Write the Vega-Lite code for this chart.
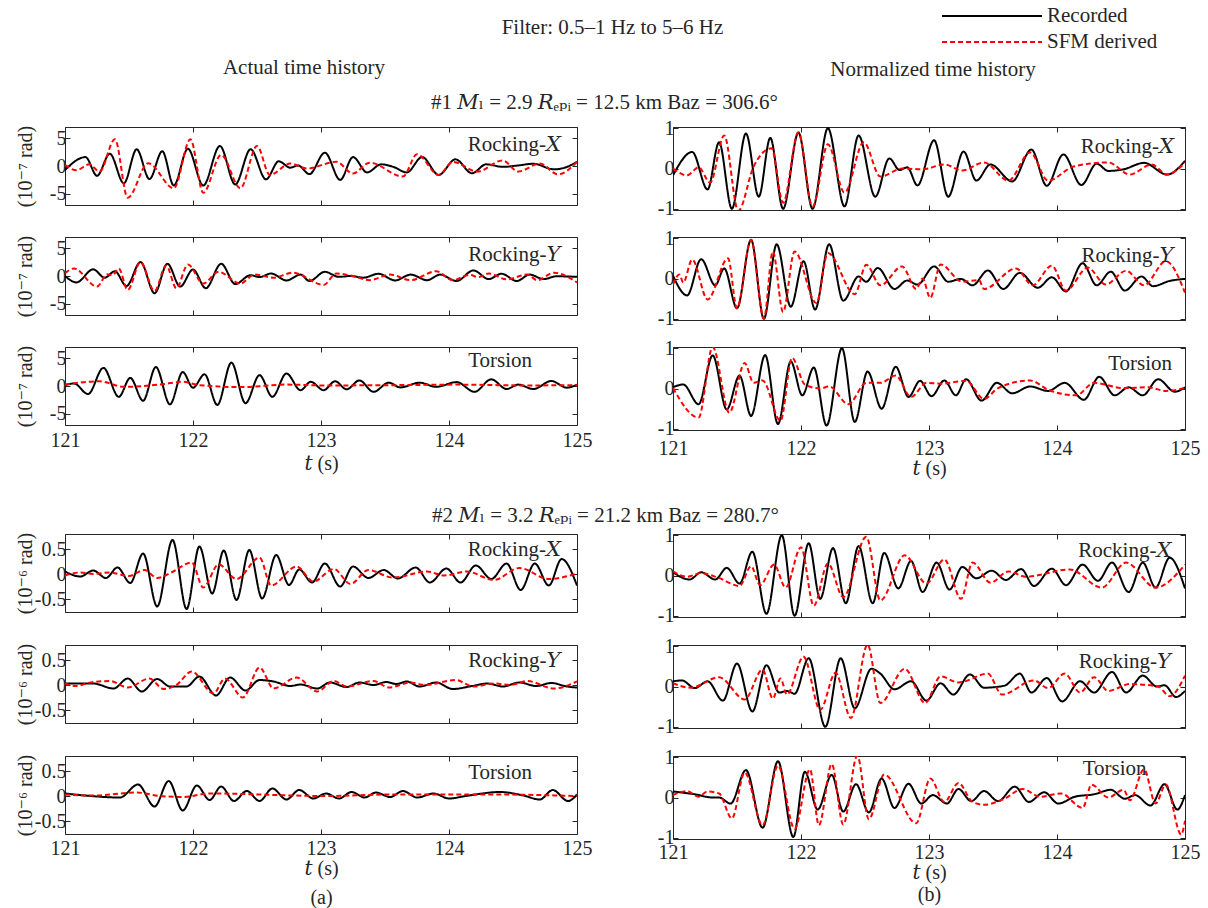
{
"$schema": "https://vega.github.io/schema/vega-lite/v6.json",
"background": "white",
"padding": {"left": 14, "top": 5, "right": 5, "bottom": 5},
"title": {"text": "Filter: 0.5–1 Hz to 5–6 Hz", "anchor": "middle", "offset": -33, "dx": 5},
"data": {"values": [
{"p":1,"s":"R","t":121.00,"v":-0.7},{"p":1,"s":"R","t":121.16,"v":1.6},{"p":1,"s":"R","t":121.25,"v":-1.75},{"p":1,"s":"R","t":121.35,"v":2.2},{"p":1,"s":"R","t":121.46,"v":-3.1},{"p":1,"s":"R","t":121.56,"v":3.0},{"p":1,"s":"R","t":121.66,"v":-2.35},{"p":1,"s":"R","t":121.76,"v":2.65},{"p":1,"s":"R","t":121.85,"v":-3.5},{"p":1,"s":"R","t":121.96,"v":3.1},{"p":1,"s":"R","t":122.08,"v":-3.5},{"p":1,"s":"R","t":122.21,"v":3.6},{"p":1,"s":"R","t":122.33,"v":-3.3},{"p":1,"s":"R","t":122.45,"v":3.0},{"p":1,"s":"R","t":122.57,"v":-2.4},{"p":1,"s":"R","t":122.67,"v":0.85},{"p":1,"s":"R","t":122.76,"v":-0.3},{"p":1,"s":"R","t":122.82,"v":0.1},{"p":1,"s":"R","t":122.91,"v":-1.45},{"p":1,"s":"R","t":123.03,"v":2.4},{"p":1,"s":"R","t":123.15,"v":-2.5},{"p":1,"s":"R","t":123.25,"v":1.6},{"p":1,"s":"R","t":123.36,"v":-1.15},{"p":1,"s":"R","t":123.47,"v":0.3},{"p":1,"s":"R","t":123.57,"v":-0.2},{"p":1,"s":"R","t":123.67,"v":-1.15},{"p":1,"s":"R","t":123.79,"v":1.6},{"p":1,"s":"R","t":123.92,"v":-1.6},{"p":1,"s":"R","t":124.05,"v":1.2},{"p":1,"s":"R","t":124.18,"v":-1.3},{"p":1,"s":"R","t":124.29,"v":0.3},{"p":1,"s":"R","t":124.42,"v":-0.15},{"p":1,"s":"R","t":124.54,"v":0.1},{"p":1,"s":"R","t":124.66,"v":0.4},{"p":1,"s":"R","t":124.82,"v":-0.6},{"p":1,"s":"R","t":124.89,"v":-0.4},{"p":1,"s":"R","t":125.00,"v":0.75},
{"p":1,"s":"S","t":121.00,"v":0.2},{"p":1,"s":"S","t":121.09,"v":-0.75},{"p":1,"s":"S","t":121.19,"v":0.3},{"p":1,"s":"S","t":121.27,"v":-1.0},{"p":1,"s":"S","t":121.39,"v":4.8},{"p":1,"s":"S","t":121.49,"v":-5.7},{"p":1,"s":"S","t":121.65,"v":0.5},{"p":1,"s":"S","t":121.85,"v":-4.0},{"p":1,"s":"S","t":121.98,"v":4.8},{"p":1,"s":"S","t":122.08,"v":-4.8},{"p":1,"s":"S","t":122.22,"v":2.0},{"p":1,"s":"S","t":122.37,"v":-4.0},{"p":1,"s":"S","t":122.50,"v":3.6},{"p":1,"s":"S","t":122.60,"v":-1.6},{"p":1,"s":"S","t":122.76,"v":0.45},{"p":1,"s":"S","t":122.89,"v":-0.45},{"p":1,"s":"S","t":123.12,"v":0.75},{"p":1,"s":"S","t":123.25,"v":-1.35},{"p":1,"s":"S","t":123.38,"v":0.6},{"p":1,"s":"S","t":123.64,"v":-1.9},{"p":1,"s":"S","t":123.75,"v":2.1},{"p":1,"s":"S","t":123.92,"v":-1.6},{"p":1,"s":"S","t":124.03,"v":0.75},{"p":1,"s":"S","t":124.22,"v":-1.0},{"p":1,"s":"S","t":124.42,"v":1.0},{"p":1,"s":"S","t":124.54,"v":-1.0},{"p":1,"s":"S","t":124.71,"v":0.45},{"p":1,"s":"S","t":124.85,"v":-1.5},{"p":1,"s":"S","t":125.00,"v":0.75},
{"p":2,"s":"R","t":121.00,"v":0.0},{"p":2,"s":"R","t":121.09,"v":-1.15},{"p":2,"s":"R","t":121.22,"v":1.2},{"p":2,"s":"R","t":121.31,"v":-0.3},{"p":2,"s":"R","t":121.39,"v":0.85},{"p":2,"s":"R","t":121.48,"v":-1.8},{"p":2,"s":"R","t":121.59,"v":2.5},{"p":2,"s":"R","t":121.70,"v":-3.1},{"p":2,"s":"R","t":121.80,"v":2.2},{"p":2,"s":"R","t":121.90,"v":-1.9},{"p":2,"s":"R","t":122.00,"v":1.15},{"p":2,"s":"R","t":122.10,"v":-2.2},{"p":2,"s":"R","t":122.22,"v":2.2},{"p":2,"s":"R","t":122.33,"v":-1.45},{"p":2,"s":"R","t":122.45,"v":0.15},{"p":2,"s":"R","t":122.52,"v":-0.2},{"p":2,"s":"R","t":122.61,"v":0.45},{"p":2,"s":"R","t":122.73,"v":-0.8},{"p":2,"s":"R","t":122.84,"v":0.25},{"p":2,"s":"R","t":122.91,"v":-0.9},{"p":2,"s":"R","t":123.03,"v":0.75},{"p":2,"s":"R","t":123.14,"v":-0.15},{"p":2,"s":"R","t":123.23,"v":0.0},{"p":2,"s":"R","t":123.33,"v":-0.3},{"p":2,"s":"R","t":123.45,"v":0.4},{"p":2,"s":"R","t":123.58,"v":-0.8},{"p":2,"s":"R","t":123.70,"v":0.25},{"p":2,"s":"R","t":123.83,"v":-0.75},{"p":2,"s":"R","t":123.93,"v":0.25},{"p":2,"s":"R","t":124.06,"v":-0.9},{"p":2,"s":"R","t":124.19,"v":1.0},{"p":2,"s":"R","t":124.31,"v":-0.55},{"p":2,"s":"R","t":124.41,"v":0.4},{"p":2,"s":"R","t":124.53,"v":-0.9},{"p":2,"s":"R","t":124.63,"v":0.25},{"p":2,"s":"R","t":124.74,"v":-0.55},{"p":2,"s":"R","t":124.84,"v":-0.05},{"p":2,"s":"R","t":125.00,"v":-0.15},
{"p":2,"s":"S","t":121.00,"v":0.5},{"p":2,"s":"S","t":121.07,"v":1.35},{"p":2,"s":"S","t":121.25,"v":-1.9},{"p":2,"s":"S","t":121.33,"v":0.3},{"p":2,"s":"S","t":121.37,"v":0.1},{"p":2,"s":"S","t":121.42,"v":1.35},{"p":2,"s":"S","t":121.49,"v":-2.5},{"p":2,"s":"S","t":121.59,"v":2.5},{"p":2,"s":"S","t":121.70,"v":-2.7},{"p":2,"s":"S","t":121.79,"v":1.9},{"p":2,"s":"S","t":121.87,"v":-2.2},{"p":2,"s":"S","t":121.96,"v":2.05},{"p":2,"s":"S","t":122.08,"v":-1.35},{"p":2,"s":"S","t":122.20,"v":0.75},{"p":2,"s":"S","t":122.37,"v":-1.35},{"p":2,"s":"S","t":122.48,"v":0.25},{"p":2,"s":"S","t":122.63,"v":-0.3},{"p":2,"s":"S","t":122.78,"v":0.6},{"p":2,"s":"S","t":123.02,"v":-1.6},{"p":2,"s":"S","t":123.12,"v":0.45},{"p":2,"s":"S","t":123.25,"v":0.0},{"p":2,"s":"S","t":123.38,"v":-0.75},{"p":2,"s":"S","t":123.54,"v":0.25},{"p":2,"s":"S","t":123.70,"v":-0.75},{"p":2,"s":"S","t":123.90,"v":0.85},{"p":2,"s":"S","t":124.03,"v":-0.75},{"p":2,"s":"S","t":124.16,"v":0.2},{"p":2,"s":"S","t":124.23,"v":-0.2},{"p":2,"s":"S","t":124.31,"v":0.45},{"p":2,"s":"S","t":124.45,"v":-0.6},{"p":2,"s":"S","t":124.61,"v":0.25},{"p":2,"s":"S","t":124.69,"v":-0.75},{"p":2,"s":"S","t":124.82,"v":0.6},{"p":2,"s":"S","t":125.00,"v":-1.15},
{"p":3,"s":"R","t":121.00,"v":0.15},{"p":3,"s":"R","t":121.07,"v":0.45},{"p":3,"s":"R","t":121.18,"v":-1.45},{"p":3,"s":"R","t":121.30,"v":3.25},{"p":3,"s":"R","t":121.42,"v":-1.95},{"p":3,"s":"R","t":121.51,"v":1.45},{"p":3,"s":"R","t":121.61,"v":-2.65},{"p":3,"s":"R","t":121.71,"v":3.4},{"p":3,"s":"R","t":121.82,"v":-3.3},{"p":3,"s":"R","t":121.92,"v":2.5},{"p":3,"s":"R","t":122.00,"v":-0.3},{"p":3,"s":"R","t":122.09,"v":2.1},{"p":3,"s":"R","t":122.19,"v":-3.4},{"p":3,"s":"R","t":122.30,"v":4.2},{"p":3,"s":"R","t":122.41,"v":-3.1},{"p":3,"s":"R","t":122.52,"v":1.95},{"p":3,"s":"R","t":122.62,"v":-1.95},{"p":3,"s":"R","t":122.73,"v":2.25},{"p":3,"s":"R","t":122.84,"v":-0.75},{"p":3,"s":"R","t":122.92,"v":0.75},{"p":3,"s":"R","t":123.02,"v":-0.75},{"p":3,"s":"R","t":123.11,"v":0.85},{"p":3,"s":"R","t":123.20,"v":-0.6},{"p":3,"s":"R","t":123.30,"v":1.0},{"p":3,"s":"R","t":123.41,"v":-1.05},{"p":3,"s":"R","t":123.53,"v":0.6},{"p":3,"s":"R","t":123.62,"v":-0.25},{"p":3,"s":"R","t":123.77,"v":0.6},{"p":3,"s":"R","t":123.90,"v":-0.15},{"p":3,"s":"R","t":124.06,"v":0.7},{"p":3,"s":"R","t":124.20,"v":-1.05},{"p":3,"s":"R","t":124.33,"v":1.2},{"p":3,"s":"R","t":124.45,"v":-0.55},{"p":3,"s":"R","t":124.54,"v":0.25},{"p":3,"s":"R","t":124.66,"v":-0.55},{"p":3,"s":"R","t":124.80,"v":0.9},{"p":3,"s":"R","t":124.92,"v":-0.3},{"p":3,"s":"R","t":125.00,"v":0.25},
{"p":3,"s":"S","t":121.00,"v":0.25},{"p":3,"s":"S","t":121.27,"v":0.85},{"p":3,"s":"S","t":121.46,"v":-0.15},{"p":3,"s":"S","t":121.74,"v":0.25},{"p":3,"s":"S","t":121.92,"v":0.75},{"p":3,"s":"S","t":122.05,"v":0.15},{"p":3,"s":"S","t":122.38,"v":-0.2},{"p":3,"s":"S","t":122.73,"v":0.25},{"p":3,"s":"S","t":123.03,"v":0.1},{"p":3,"s":"S","t":123.56,"v":0.15},{"p":3,"s":"S","t":124.06,"v":0.25},{"p":3,"s":"S","t":124.60,"v":0.1},{"p":3,"s":"S","t":125.00,"v":0.15},
{"p":4,"s":"R","t":121.00,"v":-0.17},{"p":4,"s":"R","t":121.15,"v":0.41},{"p":4,"s":"R","t":121.27,"v":-0.52},{"p":4,"s":"R","t":121.36,"v":0.65},{"p":4,"s":"R","t":121.46,"v":-1.0},{"p":4,"s":"R","t":121.57,"v":0.87},{"p":4,"s":"R","t":121.67,"v":-0.7},{"p":4,"s":"R","t":121.76,"v":0.76},{"p":4,"s":"R","t":121.86,"v":-1.0},{"p":4,"s":"R","t":121.98,"v":0.89},{"p":4,"s":"R","t":122.09,"v":-1.0},{"p":4,"s":"R","t":122.21,"v":1.0},{"p":4,"s":"R","t":122.34,"v":-0.94},{"p":4,"s":"R","t":122.45,"v":0.82},{"p":4,"s":"R","t":122.58,"v":-0.7},{"p":4,"s":"R","t":122.69,"v":0.25},{"p":4,"s":"R","t":122.77,"v":-0.04},{"p":4,"s":"R","t":122.83,"v":0.03},{"p":4,"s":"R","t":122.91,"v":-0.42},{"p":4,"s":"R","t":123.04,"v":0.7},{"p":4,"s":"R","t":123.15,"v":-0.7},{"p":4,"s":"R","t":123.27,"v":0.42},{"p":4,"s":"R","t":123.37,"v":-0.3},{"p":4,"s":"R","t":123.48,"v":0.1},{"p":4,"s":"R","t":123.65,"v":-0.32},{"p":4,"s":"R","t":123.80,"v":0.47},{"p":4,"s":"R","t":123.92,"v":-0.43},{"p":4,"s":"R","t":124.05,"v":0.35},{"p":4,"s":"R","t":124.19,"v":-0.41},{"p":4,"s":"R","t":124.31,"v":0.12},{"p":4,"s":"R","t":124.40,"v":-0.06},{"p":4,"s":"R","t":124.52,"v":-0.02},{"p":4,"s":"R","t":124.68,"v":0.14},{"p":4,"s":"R","t":124.86,"v":-0.15},{"p":4,"s":"R","t":125.00,"v":0.19},
{"p":4,"s":"S","t":121.00,"v":0.0},{"p":4,"s":"S","t":121.11,"v":-0.17},{"p":4,"s":"S","t":121.20,"v":0.03},{"p":4,"s":"S","t":121.29,"v":-0.35},{"p":4,"s":"S","t":121.40,"v":0.82},{"p":4,"s":"S","t":121.51,"v":-1.05},{"p":4,"s":"S","t":121.63,"v":0.05},{"p":4,"s":"S","t":121.77,"v":0.5},{"p":4,"s":"S","t":121.86,"v":-0.85},{"p":4,"s":"S","t":121.98,"v":0.9},{"p":4,"s":"S","t":122.09,"v":-0.95},{"p":4,"s":"S","t":122.21,"v":0.6},{"p":4,"s":"S","t":122.34,"v":-0.6},{"p":4,"s":"S","t":122.49,"v":0.65},{"p":4,"s":"S","t":122.62,"v":-0.2},{"p":4,"s":"S","t":122.79,"v":0.0},{"p":4,"s":"S","t":122.95,"v":-0.02},{"p":4,"s":"S","t":123.12,"v":0.1},{"p":4,"s":"S","t":123.26,"v":-0.05},{"p":4,"s":"S","t":123.43,"v":0.15},{"p":4,"s":"S","t":123.62,"v":-0.3},{"p":4,"s":"S","t":123.79,"v":0.4},{"p":4,"s":"S","t":123.93,"v":-0.3},{"p":4,"s":"S","t":124.13,"v":0.05},{"p":4,"s":"S","t":124.40,"v":0.15},{"p":4,"s":"S","t":124.57,"v":-0.15},{"p":4,"s":"S","t":124.74,"v":0.1},{"p":4,"s":"S","t":124.86,"v":-0.15},{"p":4,"s":"S","t":125.00,"v":0.15},
{"p":5,"s":"R","t":121.00,"v":0.07},{"p":5,"s":"R","t":121.11,"v":-0.42},{"p":5,"s":"R","t":121.22,"v":0.48},{"p":5,"s":"R","t":121.33,"v":-0.17},{"p":5,"s":"R","t":121.40,"v":0.25},{"p":5,"s":"R","t":121.50,"v":-0.74},{"p":5,"s":"R","t":121.61,"v":0.96},{"p":5,"s":"R","t":121.71,"v":-1.0},{"p":5,"s":"R","t":121.81,"v":0.85},{"p":5,"s":"R","t":121.92,"v":-0.7},{"p":5,"s":"R","t":122.02,"v":0.43},{"p":5,"s":"R","t":122.11,"v":-0.77},{"p":5,"s":"R","t":122.22,"v":0.85},{"p":5,"s":"R","t":122.33,"v":-0.55},{"p":5,"s":"R","t":122.45,"v":0.05},{"p":5,"s":"R","t":122.51,"v":-0.08},{"p":5,"s":"R","t":122.60,"v":0.26},{"p":5,"s":"R","t":122.73,"v":-0.26},{"p":5,"s":"R","t":122.83,"v":-0.05},{"p":5,"s":"R","t":122.91,"v":-0.15},{"p":5,"s":"R","t":123.04,"v":0.3},{"p":5,"s":"R","t":123.15,"v":-0.08},{"p":5,"s":"R","t":123.25,"v":-0.01},{"p":5,"s":"R","t":123.34,"v":-0.17},{"p":5,"s":"R","t":123.46,"v":0.2},{"p":5,"s":"R","t":123.58,"v":-0.26},{"p":5,"s":"R","t":123.71,"v":0.14},{"p":5,"s":"R","t":123.85,"v":-0.23},{"p":5,"s":"R","t":123.96,"v":0.03},{"p":5,"s":"R","t":124.07,"v":-0.32},{"p":5,"s":"R","t":124.20,"v":0.38},{"p":5,"s":"R","t":124.31,"v":-0.17},{"p":5,"s":"R","t":124.42,"v":0.17},{"p":5,"s":"R","t":124.53,"v":-0.3},{"p":5,"s":"R","t":124.66,"v":0.05},{"p":5,"s":"R","t":124.75,"v":-0.19},{"p":5,"s":"R","t":124.88,"v":-0.06},{"p":5,"s":"R","t":125.00,"v":-0.01},
{"p":5,"s":"S","t":121.00,"v":-0.15},{"p":5,"s":"S","t":121.05,"v":0.1},{"p":5,"s":"S","t":121.08,"v":-0.1},{"p":5,"s":"S","t":121.15,"v":0.47},{"p":5,"s":"S","t":121.27,"v":-0.52},{"p":5,"s":"S","t":121.43,"v":0.5},{"p":5,"s":"S","t":121.50,"v":-0.74},{"p":5,"s":"S","t":121.61,"v":0.96},{"p":5,"s":"S","t":121.71,"v":-1.0},{"p":5,"s":"S","t":121.78,"v":0.67},{"p":5,"s":"S","t":121.86,"v":-0.83},{"p":5,"s":"S","t":121.95,"v":0.67},{"p":5,"s":"S","t":122.12,"v":-0.61},{"p":5,"s":"S","t":122.21,"v":0.63},{"p":5,"s":"S","t":122.42,"v":-0.39},{"p":5,"s":"S","t":122.51,"v":0.34},{"p":5,"s":"S","t":122.62,"v":-0.17},{"p":5,"s":"S","t":122.79,"v":0.3},{"p":5,"s":"S","t":122.90,"v":-0.26},{"p":5,"s":"S","t":122.95,"v":0.0},{"p":5,"s":"S","t":123.01,"v":-0.48},{"p":5,"s":"S","t":123.09,"v":0.35},{"p":5,"s":"S","t":123.26,"v":-0.08},{"p":5,"s":"S","t":123.39,"v":-0.04},{"p":5,"s":"S","t":123.43,"v":-0.26},{"p":5,"s":"S","t":123.68,"v":0.25},{"p":5,"s":"S","t":123.81,"v":-0.17},{"p":5,"s":"S","t":123.96,"v":0.32},{"p":5,"s":"S","t":124.07,"v":-0.3},{"p":5,"s":"S","t":124.24,"v":0.27},{"p":5,"s":"S","t":124.38,"v":-0.15},{"p":5,"s":"S","t":124.54,"v":0.19},{"p":5,"s":"S","t":124.68,"v":-0.17},{"p":5,"s":"S","t":124.85,"v":0.43},{"p":5,"s":"S","t":125.00,"v":-0.35},
{"p":6,"s":"R","t":121.00,"v":0.03},{"p":6,"s":"R","t":121.08,"v":0.1},{"p":6,"s":"R","t":121.20,"v":-0.39},{"p":6,"s":"R","t":121.31,"v":0.82},{"p":6,"s":"R","t":121.42,"v":-0.52},{"p":6,"s":"R","t":121.52,"v":0.32},{"p":6,"s":"R","t":121.61,"v":-0.68},{"p":6,"s":"R","t":121.72,"v":0.83},{"p":6,"s":"R","t":121.82,"v":-0.88},{"p":6,"s":"R","t":121.92,"v":0.67},{"p":6,"s":"R","t":122.01,"v":-0.17},{"p":6,"s":"R","t":122.10,"v":0.52},{"p":6,"s":"R","t":122.20,"v":-0.92},{"p":6,"s":"R","t":122.32,"v":1.0},{"p":6,"s":"R","t":122.42,"v":-0.83},{"p":6,"s":"R","t":122.52,"v":0.42},{"p":6,"s":"R","t":122.63,"v":-0.5},{"p":6,"s":"R","t":122.74,"v":0.54},{"p":6,"s":"R","t":122.84,"v":-0.21},{"p":6,"s":"R","t":122.93,"v":0.19},{"p":6,"s":"R","t":123.02,"v":-0.19},{"p":6,"s":"R","t":123.12,"v":0.2},{"p":6,"s":"R","t":123.21,"v":-0.17},{"p":6,"s":"R","t":123.29,"v":0.23},{"p":6,"s":"R","t":123.41,"v":-0.3},{"p":6,"s":"R","t":123.53,"v":0.14},{"p":6,"s":"R","t":123.65,"v":-0.12},{"p":6,"s":"R","t":123.79,"v":0.05},{"p":6,"s":"R","t":123.93,"v":-0.06},{"p":6,"s":"R","t":124.06,"v":0.14},{"p":6,"s":"R","t":124.21,"v":-0.28},{"p":6,"s":"R","t":124.33,"v":0.29},{"p":6,"s":"R","t":124.45,"v":-0.17},{"p":6,"s":"R","t":124.56,"v":0.03},{"p":6,"s":"R","t":124.67,"v":-0.17},{"p":6,"s":"R","t":124.79,"v":0.23},{"p":6,"s":"R","t":124.92,"v":-0.08},{"p":6,"s":"R","t":125.00,"v":0.03},
{"p":6,"s":"S","t":121.00,"v":0.01},{"p":6,"s":"S","t":121.20,"v":-0.72},{"p":6,"s":"S","t":121.31,"v":1.03},{"p":6,"s":"S","t":121.44,"v":-0.6},{"p":6,"s":"S","t":121.56,"v":0.63},{"p":6,"s":"S","t":121.63,"v":0.14},{"p":6,"s":"S","t":121.70,"v":0.2},{"p":6,"s":"S","t":121.84,"v":-0.8},{"p":6,"s":"S","t":121.93,"v":0.76},{"p":6,"s":"S","t":122.03,"v":0.1},{"p":6,"s":"S","t":122.15,"v":0.0},{"p":6,"s":"S","t":122.22,"v":0.05},{"p":6,"s":"S","t":122.37,"v":-0.39},{"p":6,"s":"S","t":122.51,"v":0.14},{"p":6,"s":"S","t":122.62,"v":0.14},{"p":6,"s":"S","t":122.74,"v":0.32},{"p":6,"s":"S","t":122.86,"v":-0.21},{"p":6,"s":"S","t":122.98,"v":0.14},{"p":6,"s":"S","t":123.09,"v":0.12},{"p":6,"s":"S","t":123.29,"v":0.19},{"p":6,"s":"S","t":123.43,"v":-0.26},{"p":6,"s":"S","t":123.54,"v":0.01},{"p":6,"s":"S","t":123.79,"v":0.2},{"p":6,"s":"S","t":123.93,"v":-0.03},{"p":6,"s":"S","t":124.15,"v":-0.17},{"p":6,"s":"S","t":124.29,"v":0.14},{"p":6,"s":"S","t":124.52,"v":0.01},{"p":6,"s":"S","t":124.71,"v":0.03},{"p":6,"s":"S","t":124.85,"v":-0.06},{"p":6,"s":"S","t":125.00,"v":0.01},
{"p":7,"s":"R","t":121.00,"v":0.05},{"p":7,"s":"R","t":121.12,"v":-0.05},{"p":7,"s":"R","t":121.22,"v":0.07},{"p":7,"s":"R","t":121.32,"v":-0.08},{"p":7,"s":"R","t":121.41,"v":0.13},{"p":7,"s":"R","t":121.51,"v":-0.18},{"p":7,"s":"R","t":121.61,"v":0.41},{"p":7,"s":"R","t":121.72,"v":-0.65},{"p":7,"s":"R","t":121.84,"v":0.68},{"p":7,"s":"R","t":121.95,"v":-0.7},{"p":7,"s":"R","t":122.05,"v":0.55},{"p":7,"s":"R","t":122.15,"v":-0.39},{"p":7,"s":"R","t":122.24,"v":0.47},{"p":7,"s":"R","t":122.34,"v":-0.52},{"p":7,"s":"R","t":122.44,"v":0.48},{"p":7,"s":"R","t":122.54,"v":-0.49},{"p":7,"s":"R","t":122.65,"v":0.38},{"p":7,"s":"R","t":122.75,"v":-0.22},{"p":7,"s":"R","t":122.83,"v":0.09},{"p":7,"s":"R","t":122.93,"v":-0.17},{"p":7,"s":"R","t":123.03,"v":0.21},{"p":7,"s":"R","t":123.15,"v":-0.25},{"p":7,"s":"R","t":123.25,"v":0.15},{"p":7,"s":"R","t":123.37,"v":-0.08},{"p":7,"s":"R","t":123.49,"v":0.08},{"p":7,"s":"R","t":123.60,"v":-0.09},{"p":7,"s":"R","t":123.74,"v":0.13},{"p":7,"s":"R","t":123.85,"v":-0.17},{"p":7,"s":"R","t":123.98,"v":0.11},{"p":7,"s":"R","t":124.09,"v":-0.17},{"p":7,"s":"R","t":124.21,"v":0.17},{"p":7,"s":"R","t":124.33,"v":-0.1},{"p":7,"s":"R","t":124.45,"v":0.21},{"p":7,"s":"R","t":124.56,"v":-0.32},{"p":7,"s":"R","t":124.67,"v":0.21},{"p":7,"s":"R","t":124.78,"v":-0.23},{"p":7,"s":"R","t":124.88,"v":0.3},{"p":7,"s":"R","t":125.00,"v":-0.23},
{"p":7,"s":"S","t":121.00,"v":-0.03},{"p":7,"s":"S","t":121.12,"v":0.03},{"p":7,"s":"S","t":121.22,"v":0.0},{"p":7,"s":"S","t":121.35,"v":0.03},{"p":7,"s":"S","t":121.50,"v":-0.04},{"p":7,"s":"S","t":121.62,"v":0.08},{"p":7,"s":"S","t":121.72,"v":-0.08},{"p":7,"s":"S","t":121.83,"v":0.03},{"p":7,"s":"S","t":121.99,"v":0.23},{"p":7,"s":"S","t":122.08,"v":-0.27},{"p":7,"s":"S","t":122.20,"v":0.19},{"p":7,"s":"S","t":122.34,"v":-0.1},{"p":7,"s":"S","t":122.52,"v":0.33},{"p":7,"s":"S","t":122.61,"v":-0.23},{"p":7,"s":"S","t":122.81,"v":0.15},{"p":7,"s":"S","t":122.94,"v":-0.15},{"p":7,"s":"S","t":123.10,"v":0.1},{"p":7,"s":"S","t":123.23,"v":-0.2},{"p":7,"s":"S","t":123.37,"v":0.08},{"p":7,"s":"S","t":123.56,"v":-0.07},{"p":7,"s":"S","t":123.83,"v":0.05},{"p":7,"s":"S","t":123.96,"v":-0.03},{"p":7,"s":"S","t":124.14,"v":0.05},{"p":7,"s":"S","t":124.35,"v":-0.12},{"p":7,"s":"S","t":124.55,"v":0.12},{"p":7,"s":"S","t":124.78,"v":-0.1},{"p":7,"s":"S","t":125.00,"v":0.01},
{"p":8,"s":"R","t":121.00,"v":0.03},{"p":8,"s":"R","t":121.22,"v":0.03},{"p":8,"s":"R","t":121.38,"v":-0.07},{"p":8,"s":"R","t":121.49,"v":0.13},{"p":8,"s":"R","t":121.60,"v":-0.13},{"p":8,"s":"R","t":121.72,"v":0.12},{"p":8,"s":"R","t":121.82,"v":-0.03},{"p":8,"s":"R","t":121.95,"v":-0.03},{"p":8,"s":"R","t":122.05,"v":0.17},{"p":8,"s":"R","t":122.18,"v":-0.21},{"p":8,"s":"R","t":122.29,"v":0.15},{"p":8,"s":"R","t":122.41,"v":-0.11},{"p":8,"s":"R","t":122.52,"v":0.1},{"p":8,"s":"R","t":122.63,"v":0.07},{"p":8,"s":"R","t":122.76,"v":-0.02},{"p":8,"s":"R","t":122.84,"v":0.01},{"p":8,"s":"R","t":122.97,"v":-0.07},{"p":8,"s":"R","t":123.07,"v":0.05},{"p":8,"s":"R","t":123.20,"v":-0.04},{"p":8,"s":"R","t":123.30,"v":0.05},{"p":8,"s":"R","t":123.41,"v":0.0},{"p":8,"s":"R","t":123.51,"v":0.06},{"p":8,"s":"R","t":123.59,"v":0.02},{"p":8,"s":"R","t":123.67,"v":0.07},{"p":8,"s":"R","t":123.77,"v":-0.03},{"p":8,"s":"R","t":123.90,"v":0.05},{"p":8,"s":"R","t":124.03,"v":-0.08},{"p":8,"s":"R","t":124.18,"v":-0.02},{"p":8,"s":"R","t":124.30,"v":0.03},{"p":8,"s":"R","t":124.42,"v":-0.03},{"p":8,"s":"R","t":124.55,"v":0.05},{"p":8,"s":"R","t":124.68,"v":-0.02},{"p":8,"s":"R","t":124.80,"v":0.04},{"p":8,"s":"R","t":124.92,"v":-0.03},{"p":8,"s":"R","t":125.00,"v":-0.05},
{"p":8,"s":"S","t":121.00,"v":0.03},{"p":8,"s":"S","t":121.08,"v":-0.02},{"p":8,"s":"S","t":121.20,"v":0.05},{"p":8,"s":"S","t":121.35,"v":0.08},{"p":8,"s":"S","t":121.49,"v":-0.05},{"p":8,"s":"S","t":121.66,"v":0.13},{"p":8,"s":"S","t":121.77,"v":-0.08},{"p":8,"s":"S","t":121.87,"v":0.0},{"p":8,"s":"S","t":121.99,"v":0.27},{"p":8,"s":"S","t":122.16,"v":-0.17},{"p":8,"s":"S","t":122.25,"v":0.13},{"p":8,"s":"S","t":122.39,"v":-0.25},{"p":8,"s":"S","t":122.52,"v":0.35},{"p":8,"s":"S","t":122.63,"v":-0.07},{"p":8,"s":"S","t":122.81,"v":0.15},{"p":8,"s":"S","t":122.97,"v":-0.13},{"p":8,"s":"S","t":123.10,"v":0.08},{"p":8,"s":"S","t":123.20,"v":-0.03},{"p":8,"s":"S","t":123.41,"v":0.08},{"p":8,"s":"S","t":123.53,"v":-0.05},{"p":8,"s":"S","t":123.70,"v":0.05},{"p":8,"s":"S","t":123.81,"v":0.0},{"p":8,"s":"S","t":124.05,"v":0.1},{"p":8,"s":"S","t":124.19,"v":-0.03},{"p":8,"s":"S","t":124.35,"v":0.03},{"p":8,"s":"S","t":124.48,"v":0.0},{"p":8,"s":"S","t":124.61,"v":0.08},{"p":8,"s":"S","t":124.82,"v":-0.07},{"p":8,"s":"S","t":125.00,"v":0.07},
{"p":9,"s":"R","t":121.00,"v":0.05},{"p":9,"s":"R","t":121.20,"v":0.0},{"p":9,"s":"R","t":121.43,"v":-0.03},{"p":9,"s":"R","t":121.57,"v":0.23},{"p":9,"s":"R","t":121.70,"v":-0.21},{"p":9,"s":"R","t":121.81,"v":0.3},{"p":9,"s":"R","t":121.92,"v":-0.29},{"p":9,"s":"R","t":122.03,"v":0.21},{"p":9,"s":"R","t":122.13,"v":-0.08},{"p":9,"s":"R","t":122.22,"v":0.19},{"p":9,"s":"R","t":122.32,"v":-0.1},{"p":9,"s":"R","t":122.42,"v":0.1},{"p":9,"s":"R","t":122.52,"v":-0.1},{"p":9,"s":"R","t":122.62,"v":0.15},{"p":9,"s":"R","t":122.73,"v":-0.07},{"p":9,"s":"R","t":122.83,"v":0.12},{"p":9,"s":"R","t":122.94,"v":-0.05},{"p":9,"s":"R","t":123.04,"v":0.05},{"p":9,"s":"R","t":123.14,"v":-0.05},{"p":9,"s":"R","t":123.24,"v":0.08},{"p":9,"s":"R","t":123.34,"v":-0.03},{"p":9,"s":"R","t":123.43,"v":0.07},{"p":9,"s":"R","t":123.54,"v":-0.02},{"p":9,"s":"R","t":123.64,"v":0.1},{"p":9,"s":"R","t":123.75,"v":-0.03},{"p":9,"s":"R","t":123.88,"v":0.05},{"p":9,"s":"R","t":124.00,"v":-0.05},{"p":9,"s":"R","t":124.13,"v":0.0},{"p":9,"s":"R","t":124.40,"v":0.08},{"p":9,"s":"R","t":124.58,"v":0.01},{"p":9,"s":"R","t":124.71,"v":-0.07},{"p":9,"s":"R","t":124.81,"v":0.12},{"p":9,"s":"R","t":124.93,"v":-0.1},{"p":9,"s":"R","t":125.00,"v":0.03},
{"p":9,"s":"S","t":121.00,"v":0.03},{"p":9,"s":"S","t":121.22,"v":0.01},{"p":9,"s":"S","t":121.56,"v":0.07},{"p":9,"s":"S","t":121.74,"v":0.0},{"p":9,"s":"S","t":121.92,"v":-0.02},{"p":9,"s":"S","t":122.13,"v":0.05},{"p":9,"s":"S","t":123.04,"v":0.0},{"p":9,"s":"S","t":123.56,"v":0.03},{"p":9,"s":"S","t":124.35,"v":0.03},{"p":9,"s":"S","t":125.00,"v":0.0},
{"p":10,"s":"R","t":121.00,"v":0.08},{"p":10,"s":"R","t":121.13,"v":-0.1},{"p":10,"s":"R","t":121.22,"v":0.08},{"p":10,"s":"R","t":121.33,"v":-0.1},{"p":10,"s":"R","t":121.42,"v":0.19},{"p":10,"s":"R","t":121.52,"v":-0.2},{"p":10,"s":"R","t":121.62,"v":0.59},{"p":10,"s":"R","t":121.73,"v":-0.95},{"p":10,"s":"R","t":121.85,"v":1.0},{"p":10,"s":"R","t":121.95,"v":-1.0},{"p":10,"s":"R","t":122.06,"v":0.8},{"p":10,"s":"R","t":122.15,"v":-0.58},{"p":10,"s":"R","t":122.25,"v":0.68},{"p":10,"s":"R","t":122.35,"v":-0.69},{"p":10,"s":"R","t":122.45,"v":0.73},{"p":10,"s":"R","t":122.56,"v":-0.69},{"p":10,"s":"R","t":122.65,"v":0.56},{"p":10,"s":"R","t":122.76,"v":-0.32},{"p":10,"s":"R","t":122.86,"v":0.36},{"p":10,"s":"R","t":122.95,"v":-0.41},{"p":10,"s":"R","t":123.06,"v":0.32},{"p":10,"s":"R","t":123.16,"v":-0.35},{"p":10,"s":"R","t":123.26,"v":0.21},{"p":10,"s":"R","t":123.37,"v":-0.07},{"p":10,"s":"R","t":123.49,"v":0.12},{"p":10,"s":"R","t":123.60,"v":-0.11},{"p":10,"s":"R","t":123.72,"v":0.16},{"p":10,"s":"R","t":123.82,"v":-0.26},{"p":10,"s":"R","t":123.96,"v":0.17},{"p":10,"s":"R","t":124.07,"v":-0.24},{"p":10,"s":"R","t":124.20,"v":0.27},{"p":10,"s":"R","t":124.32,"v":-0.13},{"p":10,"s":"R","t":124.43,"v":0.32},{"p":10,"s":"R","t":124.56,"v":-0.41},{"p":10,"s":"R","t":124.67,"v":0.32},{"p":10,"s":"R","t":124.77,"v":-0.3},{"p":10,"s":"R","t":124.88,"v":0.44},{"p":10,"s":"R","t":125.00,"v":-0.32},
{"p":10,"s":"S","t":121.00,"v":0.1},{"p":10,"s":"S","t":121.11,"v":-0.03},{"p":10,"s":"S","t":121.22,"v":0.06},{"p":10,"s":"S","t":121.35,"v":-0.05},{"p":10,"s":"S","t":121.52,"v":-0.26},{"p":10,"s":"S","t":121.61,"v":0.23},{"p":10,"s":"S","t":121.68,"v":-0.24},{"p":10,"s":"S","t":121.79,"v":0.27},{"p":10,"s":"S","t":121.88,"v":-0.3},{"p":10,"s":"S","t":122.00,"v":0.7},{"p":10,"s":"S","t":122.10,"v":-0.75},{"p":10,"s":"S","t":122.21,"v":0.3},{"p":10,"s":"S","t":122.33,"v":-0.54},{"p":10,"s":"S","t":122.51,"v":0.96},{"p":10,"s":"S","t":122.62,"v":-0.62},{"p":10,"s":"S","t":122.81,"v":0.5},{"p":10,"s":"S","t":122.98,"v":-0.2},{"p":10,"s":"S","t":123.12,"v":0.4},{"p":10,"s":"S","t":123.25,"v":-0.58},{"p":10,"s":"S","t":123.34,"v":0.32},{"p":10,"s":"S","t":123.48,"v":-0.18},{"p":10,"s":"S","t":123.62,"v":0.1},{"p":10,"s":"S","t":123.76,"v":-0.03},{"p":10,"s":"S","t":124.10,"v":0.15},{"p":10,"s":"S","t":124.35,"v":-0.3},{"p":10,"s":"S","t":124.54,"v":0.32},{"p":10,"s":"S","t":124.77,"v":-0.3},{"p":10,"s":"S","t":125.00,"v":0.27},
{"p":11,"s":"R","t":121.00,"v":0.13},{"p":11,"s":"R","t":121.07,"v":0.15},{"p":11,"s":"R","t":121.17,"v":-0.04},{"p":11,"s":"R","t":121.27,"v":0.13},{"p":11,"s":"R","t":121.39,"v":-0.35},{"p":11,"s":"R","t":121.50,"v":0.57},{"p":11,"s":"R","t":121.62,"v":-0.62},{"p":11,"s":"R","t":121.73,"v":0.53},{"p":11,"s":"R","t":121.83,"v":-0.15},{"p":11,"s":"R","t":121.89,"v":-0.11},{"p":11,"s":"R","t":121.95,"v":-0.18},{"p":11,"s":"R","t":122.06,"v":0.7},{"p":11,"s":"R","t":122.19,"v":-1.0},{"p":11,"s":"R","t":122.31,"v":0.7},{"p":11,"s":"R","t":122.42,"v":-0.54},{"p":11,"s":"R","t":122.55,"v":0.44},{"p":11,"s":"R","t":122.62,"v":0.32},{"p":11,"s":"R","t":122.73,"v":-0.07},{"p":11,"s":"R","t":122.86,"v":0.13},{"p":11,"s":"R","t":122.98,"v":-0.35},{"p":11,"s":"R","t":123.09,"v":0.08},{"p":11,"s":"R","t":123.19,"v":-0.2},{"p":11,"s":"R","t":123.32,"v":0.3},{"p":11,"s":"R","t":123.43,"v":-0.03},{"p":11,"s":"R","t":123.59,"v":0.02},{"p":11,"s":"R","t":123.71,"v":0.32},{"p":11,"s":"R","t":123.80,"v":-0.15},{"p":11,"s":"R","t":123.92,"v":0.21},{"p":11,"s":"R","t":124.04,"v":-0.37},{"p":11,"s":"R","t":124.18,"v":0.13},{"p":11,"s":"R","t":124.29,"v":-0.15},{"p":11,"s":"R","t":124.43,"v":0.36},{"p":11,"s":"R","t":124.54,"v":-0.15},{"p":11,"s":"R","t":124.67,"v":0.27},{"p":11,"s":"R","t":124.78,"v":0.0},{"p":11,"s":"R","t":124.84,"v":0.03},{"p":11,"s":"R","t":124.93,"v":-0.26},{"p":11,"s":"R","t":125.00,"v":-0.11},
{"p":11,"s":"S","t":121.00,"v":0.08},{"p":11,"s":"S","t":121.14,"v":-0.03},{"p":11,"s":"S","t":121.36,"v":0.23},{"p":11,"s":"S","t":121.56,"v":-0.32},{"p":11,"s":"S","t":121.70,"v":0.42},{"p":11,"s":"S","t":121.78,"v":-0.3},{"p":11,"s":"S","t":121.84,"v":0.2},{"p":11,"s":"S","t":121.89,"v":-0.2},{"p":11,"s":"S","t":122.02,"v":0.74},{"p":11,"s":"S","t":122.15,"v":-0.58},{"p":11,"s":"S","t":122.27,"v":0.34},{"p":11,"s":"S","t":122.39,"v":-0.78},{"p":11,"s":"S","t":122.52,"v":1.04},{"p":11,"s":"S","t":122.62,"v":-0.41},{"p":11,"s":"S","t":122.81,"v":0.44},{"p":11,"s":"S","t":122.97,"v":-0.41},{"p":11,"s":"S","t":123.09,"v":0.25},{"p":11,"s":"S","t":123.23,"v":0.1},{"p":11,"s":"S","t":123.46,"v":0.32},{"p":11,"s":"S","t":123.57,"v":-0.2},{"p":11,"s":"S","t":123.82,"v":0.15},{"p":11,"s":"S","t":123.93,"v":-0.04},{"p":11,"s":"S","t":124.06,"v":0.32},{"p":11,"s":"S","t":124.18,"v":-0.15},{"p":11,"s":"S","t":124.29,"v":0.23},{"p":11,"s":"S","t":124.40,"v":-0.11},{"p":11,"s":"S","t":124.57,"v":0.06},{"p":11,"s":"S","t":124.79,"v":0.0},{"p":11,"s":"S","t":124.88,"v":-0.24},{"p":11,"s":"S","t":125.00,"v":0.27},
{"p":12,"s":"R","t":121.00,"v":0.15},{"p":12,"s":"R","t":121.17,"v":0.08},{"p":12,"s":"R","t":121.31,"v":0.0},{"p":12,"s":"R","t":121.36,"v":0.0},{"p":12,"s":"R","t":121.45,"v":-0.15},{"p":12,"s":"R","t":121.57,"v":0.68},{"p":12,"s":"R","t":121.70,"v":-0.75},{"p":12,"s":"R","t":121.82,"v":0.9},{"p":12,"s":"R","t":121.94,"v":-0.98},{"p":12,"s":"R","t":122.03,"v":0.64},{"p":12,"s":"R","t":122.13,"v":-0.3},{"p":12,"s":"R","t":122.24,"v":0.56},{"p":12,"s":"R","t":122.33,"v":-0.35},{"p":12,"s":"R","t":122.43,"v":0.33},{"p":12,"s":"R","t":122.53,"v":-0.37},{"p":12,"s":"R","t":122.63,"v":0.47},{"p":12,"s":"R","t":122.73,"v":-0.26},{"p":12,"s":"R","t":122.84,"v":0.34},{"p":12,"s":"R","t":122.94,"v":-0.15},{"p":12,"s":"R","t":123.03,"v":0.06},{"p":12,"s":"R","t":123.14,"v":-0.15},{"p":12,"s":"R","t":123.23,"v":0.21},{"p":12,"s":"R","t":123.33,"v":-0.09},{"p":12,"s":"R","t":123.43,"v":0.16},{"p":12,"s":"R","t":123.54,"v":-0.09},{"p":12,"s":"R","t":123.67,"v":0.27},{"p":12,"s":"R","t":123.78,"v":-0.11},{"p":12,"s":"R","t":123.90,"v":0.13},{"p":12,"s":"R","t":124.01,"v":-0.15},{"p":12,"s":"R","t":124.14,"v":0.02},{"p":12,"s":"R","t":124.29,"v":0.08},{"p":12,"s":"R","t":124.42,"v":0.19},{"p":12,"s":"R","t":124.53,"v":-0.03},{"p":12,"s":"R","t":124.61,"v":0.06},{"p":12,"s":"R","t":124.73,"v":-0.2},{"p":12,"s":"R","t":124.84,"v":0.33},{"p":12,"s":"R","t":124.94,"v":-0.3},{"p":12,"s":"R","t":125.00,"v":0.06},
{"p":12,"s":"S","t":121.00,"v":0.06},{"p":12,"s":"S","t":121.11,"v":0.16},{"p":12,"s":"S","t":121.20,"v":0.02},{"p":12,"s":"S","t":121.27,"v":0.15},{"p":12,"s":"S","t":121.36,"v":0.1},{"p":12,"s":"S","t":121.46,"v":-0.52},{"p":12,"s":"S","t":121.56,"v":0.62},{"p":12,"s":"S","t":121.70,"v":-0.69},{"p":12,"s":"S","t":121.82,"v":0.79},{"p":12,"s":"S","t":121.95,"v":-0.78},{"p":12,"s":"S","t":122.07,"v":0.7},{"p":12,"s":"S","t":122.14,"v":-0.69},{"p":12,"s":"S","t":122.24,"v":0.83},{"p":12,"s":"S","t":122.33,"v":-0.67},{"p":12,"s":"S","t":122.44,"v":1.04},{"p":12,"s":"S","t":122.53,"v":-0.54},{"p":12,"s":"S","t":122.65,"v":0.57},{"p":12,"s":"S","t":122.90,"v":-0.64},{"p":12,"s":"S","t":123.01,"v":0.47},{"p":12,"s":"S","t":123.12,"v":-0.11},{"p":12,"s":"S","t":123.23,"v":0.36},{"p":12,"s":"S","t":123.34,"v":-0.11},{"p":12,"s":"S","t":123.43,"v":-0.18},{"p":12,"s":"S","t":123.59,"v":-0.03},{"p":12,"s":"S","t":123.73,"v":0.21},{"p":12,"s":"S","t":123.87,"v":0.02},{"p":12,"s":"S","t":124.03,"v":0.1},{"p":12,"s":"S","t":124.20,"v":-0.26},{"p":12,"s":"S","t":124.27,"v":0.32},{"p":12,"s":"S","t":124.40,"v":0.0},{"p":12,"s":"S","t":124.52,"v":0.19},{"p":12,"s":"S","t":124.57,"v":-0.07},{"p":12,"s":"S","t":124.68,"v":0.7},{"p":12,"s":"S","t":124.77,"v":-0.15},{"p":12,"s":"S","t":124.85,"v":0.32},{"p":12,"s":"S","t":124.97,"v":-0.92},{"p":12,"s":"S","t":125.00,"v":-0.58}
]},
"spacing": 25,
"vconcat": [
{
"title": {"text": "#1 𝑀ₗ = 2.9   𝑅ₑₚᵢ = 12.5 km   Baz = 306.6°", "anchor": "middle", "offset": -56, "dx": -3},
"columns": 2, "bounds": "flush", "spacing": {"row": 27, "column": 96},
"concat": [
{"width": 512, "height": 78, "title": {"text": "Actual time history", "anchor": "middle", "frame": "group", "dx": -17, "offset": 47},
 "transform": [{"filter": "datum.p == 1"}],
 "resolve": {"axis": {"x": "independent", "y": "independent"}},
 "layer": [
  {"mark": {"type": "line", "clip": true},
   "encoding": {
    "x": {"field": "t", "type": "quantitative", "scale": {"domain": [121, 125], "nice": false, "zero": false}, "axis": {"values": [121,122,123,124,125], "format": "d", "labels": false, "title": null}},
    "y": {"field": "v", "type": "quantitative", "scale": {"domain": [-7, 7], "nice": false, "zero": false}, "axis": {"values": [-5,0,5], "title": "(10⁻⁷ rad)", "titleX": -30, "labelExpr": "'' + datum.value"}},
    "color": {"field": "s", "type": "nominal", "title": null, "scale": {"domain": ["R","S"], "range": ["#000000","#ff0000"]}, "legend": {"labelExpr": "datum.label == 'R' ? 'Recorded' : 'SFM derived'"}},
    "strokeDash": {"field": "s", "type": "nominal", "title": null, "scale": {"domain": ["R","S"], "range": [[1,0],[5,3]]}, "legend": {"labelExpr": "datum.label == 'R' ? 'Recorded' : 'SFM derived'"}}}},
  {"data": {"values": [{}]}, "mark": {"type": "text"}, "encoding": {"x": {"datum": 124.51, "axis": {"orient": "top", "values": [121,122,123,124,125], "labels": false, "title": null}}, "y": {"datum": 3.8, "axis": {"orient": "right", "values": [-5,0,5], "labels": false, "title": null}}, "text": {"value": "Rocking-𝑋"}}}
 ]},
{"width": 512, "height": 83, "title": {"text": "Normalized time history", "anchor": "middle", "frame": "group", "dx": 4, "offset": 38},
 "transform": [{"filter": "datum.p == 4"}],
 "resolve": {"axis": {"x": "independent", "y": "independent"}},
 "layer": [
  {"mark": {"type": "line", "clip": true},
   "encoding": {
    "x": {"field": "t", "type": "quantitative", "scale": {"domain": [121, 125], "nice": false, "zero": false}, "axis": {"values": [121,122,123,124,125], "format": "d", "labels": false, "title": null}},
    "y": {"field": "v", "type": "quantitative", "scale": {"domain": [-1.03, 1.03], "nice": false, "zero": false}, "axis": {"values": [-1,0,1], "title": null, "labelExpr": "'' + datum.value"}},
    "color": {"field": "s", "type": "nominal", "title": null, "scale": {"domain": ["R","S"], "range": ["#000000","#ff0000"]}, "legend": {"labelExpr": "datum.label == 'R' ? 'Recorded' : 'SFM derived'"}},
    "strokeDash": {"field": "s", "type": "nominal", "title": null, "scale": {"domain": ["R","S"], "range": [[1,0],[5,3]]}, "legend": {"labelExpr": "datum.label == 'R' ? 'Recorded' : 'SFM derived'"}}}},
  {"data": {"values": [{}]}, "mark": {"type": "text"}, "encoding": {"x": {"datum": 124.55, "axis": {"orient": "top", "values": [121,122,123,124,125], "labels": false, "title": null}}, "y": {"datum": 0.53, "axis": {"orient": "right", "values": [-1,0,1], "labels": false, "title": null}}, "text": {"value": "Rocking-𝑋"}}}
 ]},
{"width": 512, "height": 78,
 "transform": [{"filter": "datum.p == 2"}],
 "resolve": {"axis": {"x": "independent", "y": "independent"}},
 "layer": [
  {"mark": {"type": "line", "clip": true},
   "encoding": {
    "x": {"field": "t", "type": "quantitative", "scale": {"domain": [121, 125], "nice": false, "zero": false}, "axis": {"values": [121,122,123,124,125], "format": "d", "labels": false, "title": null}},
    "y": {"field": "v", "type": "quantitative", "scale": {"domain": [-7, 7], "nice": false, "zero": false}, "axis": {"values": [-5,0,5], "title": "(10⁻⁷ rad)", "titleX": -30, "labelExpr": "'' + datum.value"}},
    "color": {"field": "s", "type": "nominal", "title": null, "scale": {"domain": ["R","S"], "range": ["#000000","#ff0000"]}, "legend": {"labelExpr": "datum.label == 'R' ? 'Recorded' : 'SFM derived'"}},
    "strokeDash": {"field": "s", "type": "nominal", "title": null, "scale": {"domain": ["R","S"], "range": [[1,0],[5,3]]}, "legend": {"labelExpr": "datum.label == 'R' ? 'Recorded' : 'SFM derived'"}}}},
  {"data": {"values": [{}]}, "mark": {"type": "text"}, "encoding": {"x": {"datum": 124.51, "axis": {"orient": "top", "values": [121,122,123,124,125], "labels": false, "title": null}}, "y": {"datum": 3.8, "axis": {"orient": "right", "values": [-5,0,5], "labels": false, "title": null}}, "text": {"value": "Rocking-𝑌"}}}
 ]},
{"width": 512, "height": 83,
 "transform": [{"filter": "datum.p == 5"}],
 "resolve": {"axis": {"x": "independent", "y": "independent"}},
 "layer": [
  {"mark": {"type": "line", "clip": true},
   "encoding": {
    "x": {"field": "t", "type": "quantitative", "scale": {"domain": [121, 125], "nice": false, "zero": false}, "axis": {"values": [121,122,123,124,125], "format": "d", "labels": false, "title": null}},
    "y": {"field": "v", "type": "quantitative", "scale": {"domain": [-1.03, 1.03], "nice": false, "zero": false}, "axis": {"values": [-1,0,1], "title": null, "labelExpr": "'' + datum.value"}},
    "color": {"field": "s", "type": "nominal", "title": null, "scale": {"domain": ["R","S"], "range": ["#000000","#ff0000"]}, "legend": {"labelExpr": "datum.label == 'R' ? 'Recorded' : 'SFM derived'"}},
    "strokeDash": {"field": "s", "type": "nominal", "title": null, "scale": {"domain": ["R","S"], "range": [[1,0],[5,3]]}, "legend": {"labelExpr": "datum.label == 'R' ? 'Recorded' : 'SFM derived'"}}}},
  {"data": {"values": [{}]}, "mark": {"type": "text"}, "encoding": {"x": {"datum": 124.55, "axis": {"orient": "top", "values": [121,122,123,124,125], "labels": false, "title": null}}, "y": {"datum": 0.55, "axis": {"orient": "right", "values": [-1,0,1], "labels": false, "title": null}}, "text": {"value": "Rocking-𝑌"}}}
 ]},
{"width": 512, "height": 78,
 "transform": [{"filter": "datum.p == 3"}],
 "resolve": {"axis": {"x": "independent", "y": "independent"}},
 "layer": [
  {"mark": {"type": "line", "clip": true},
   "encoding": {
    "x": {"field": "t", "type": "quantitative", "scale": {"domain": [121, 125], "nice": false, "zero": false}, "axis": {"values": [121,122,123,124,125], "format": "d", "labelPadding": 10, "titlePadding": 3, "title": "𝑡 (s)"}},
    "y": {"field": "v", "type": "quantitative", "scale": {"domain": [-7, 7], "nice": false, "zero": false}, "axis": {"values": [-5,0,5], "title": "(10⁻⁷ rad)", "titleX": -30, "labelExpr": "'' + datum.value"}},
    "color": {"field": "s", "type": "nominal", "title": null, "scale": {"domain": ["R","S"], "range": ["#000000","#ff0000"]}, "legend": {"labelExpr": "datum.label == 'R' ? 'Recorded' : 'SFM derived'"}},
    "strokeDash": {"field": "s", "type": "nominal", "title": null, "scale": {"domain": ["R","S"], "range": [[1,0],[5,3]]}, "legend": {"labelExpr": "datum.label == 'R' ? 'Recorded' : 'SFM derived'"}}}},
  {"data": {"values": [{}]}, "mark": {"type": "text"}, "encoding": {"x": {"datum": 124.4, "axis": {"orient": "top", "values": [121,122,123,124,125], "labels": false, "title": null}}, "y": {"datum": 4.5, "axis": {"orient": "right", "values": [-5,0,5], "labels": false, "title": null}}, "text": {"value": "Torsion"}}}
 ]},
{"width": 512, "height": 83,
 "transform": [{"filter": "datum.p == 6"}],
 "resolve": {"axis": {"x": "independent", "y": "independent"}},
 "layer": [
  {"mark": {"type": "line", "clip": true},
   "encoding": {
    "x": {"field": "t", "type": "quantitative", "scale": {"domain": [121, 125], "nice": false, "zero": false}, "axis": {"values": [121,122,123,124,125], "format": "d", "labelPadding": 13, "titlePadding": 0, "title": "𝑡 (s)"}},
    "y": {"field": "v", "type": "quantitative", "scale": {"domain": [-1.03, 1.03], "nice": false, "zero": false}, "axis": {"values": [-1,0,1], "title": null, "labelExpr": "'' + datum.value"}},
    "color": {"field": "s", "type": "nominal", "title": null, "scale": {"domain": ["R","S"], "range": ["#000000","#ff0000"]}, "legend": {"labelExpr": "datum.label == 'R' ? 'Recorded' : 'SFM derived'"}},
    "strokeDash": {"field": "s", "type": "nominal", "title": null, "scale": {"domain": ["R","S"], "range": [[1,0],[5,3]]}, "legend": {"labelExpr": "datum.label == 'R' ? 'Recorded' : 'SFM derived'"}}}},
  {"data": {"values": [{}]}, "mark": {"type": "text"}, "encoding": {"x": {"datum": 124.65, "axis": {"orient": "top", "values": [121,122,123,124,125], "labels": false, "title": null}}, "y": {"datum": 0.6, "axis": {"orient": "right", "values": [-1,0,1], "labels": false, "title": null}}, "text": {"value": "Torsion"}}}
 ]}
]
},
{
"title": {"text": "#2 𝑀ₗ = 3.2   𝑅ₑₚᵢ = 21.2 km   Baz = 280.7°", "anchor": "middle", "offset": -1, "dx": -2},
"columns": 2, "bounds": "flush", "spacing": {"row": 28, "column": 96},
"concat": [
{"width": 512, "height": 78,
 "transform": [{"filter": "datum.p == 7"}],
 "resolve": {"axis": {"x": "independent", "y": "independent"}},
 "layer": [
  {"mark": {"type": "line", "clip": true},
   "encoding": {
    "x": {"field": "t", "type": "quantitative", "scale": {"domain": [121, 125], "nice": false, "zero": false}, "axis": {"values": [121,122,123,124,125], "format": "d", "labels": false, "title": null}},
    "y": {"field": "v", "type": "quantitative", "scale": {"domain": [-0.76, 0.8], "nice": false, "zero": false}, "axis": {"values": [-0.5,0,0.5], "title": "(10⁻⁶ rad)", "titleX": -30, "labelExpr": "'' + datum.value"}},
    "color": {"field": "s", "type": "nominal", "title": null, "scale": {"domain": ["R","S"], "range": ["#000000","#ff0000"]}, "legend": {"labelExpr": "datum.label == 'R' ? 'Recorded' : 'SFM derived'"}},
    "strokeDash": {"field": "s", "type": "nominal", "title": null, "scale": {"domain": ["R","S"], "range": [[1,0],[5,3]]}, "legend": {"labelExpr": "datum.label == 'R' ? 'Recorded' : 'SFM derived'"}}}},
  {"data": {"values": [{}]}, "mark": {"type": "text"}, "encoding": {"x": {"datum": 124.51, "axis": {"orient": "top", "values": [121,122,123,124,125], "labels": false, "title": null}}, "y": {"datum": 0.49, "axis": {"orient": "right", "values": [-0.5,0,0.5], "labels": false, "title": null}}, "text": {"value": "Rocking-𝑋"}}}
 ]},
{"width": 512, "height": 83,
 "transform": [{"filter": "datum.p == 10"}],
 "resolve": {"axis": {"x": "independent", "y": "independent"}},
 "layer": [
  {"mark": {"type": "line", "clip": true},
   "encoding": {
    "x": {"field": "t", "type": "quantitative", "scale": {"domain": [121, 125], "nice": false, "zero": false}, "axis": {"values": [121,122,123,124,125], "format": "d", "labels": false, "title": null}},
    "y": {"field": "v", "type": "quantitative", "scale": {"domain": [-1.03, 1.03], "nice": false, "zero": false}, "axis": {"values": [-1,0,1], "title": null, "labelExpr": "'' + datum.value"}},
    "color": {"field": "s", "type": "nominal", "title": null, "scale": {"domain": ["R","S"], "range": ["#000000","#ff0000"]}, "legend": {"labelExpr": "datum.label == 'R' ? 'Recorded' : 'SFM derived'"}},
    "strokeDash": {"field": "s", "type": "nominal", "title": null, "scale": {"domain": ["R","S"], "range": [[1,0],[5,3]]}, "legend": {"labelExpr": "datum.label == 'R' ? 'Recorded' : 'SFM derived'"}}}},
  {"data": {"values": [{}]}, "mark": {"type": "text"}, "encoding": {"x": {"datum": 124.53, "axis": {"orient": "top", "values": [121,122,123,124,125], "labels": false, "title": null}}, "y": {"datum": 0.62, "axis": {"orient": "right", "values": [-1,0,1], "labels": false, "title": null}}, "text": {"value": "Rocking-𝑋"}}}
 ]},
{"width": 512, "height": 78,
 "transform": [{"filter": "datum.p == 8"}],
 "resolve": {"axis": {"x": "independent", "y": "independent"}},
 "layer": [
  {"mark": {"type": "line", "clip": true},
   "encoding": {
    "x": {"field": "t", "type": "quantitative", "scale": {"domain": [121, 125], "nice": false, "zero": false}, "axis": {"values": [121,122,123,124,125], "format": "d", "labels": false, "title": null}},
    "y": {"field": "v", "type": "quantitative", "scale": {"domain": [-0.76, 0.8], "nice": false, "zero": false}, "axis": {"values": [-0.5,0,0.5], "title": "(10⁻⁶ rad)", "titleX": -30, "labelExpr": "'' + datum.value"}},
    "color": {"field": "s", "type": "nominal", "title": null, "scale": {"domain": ["R","S"], "range": ["#000000","#ff0000"]}, "legend": {"labelExpr": "datum.label == 'R' ? 'Recorded' : 'SFM derived'"}},
    "strokeDash": {"field": "s", "type": "nominal", "title": null, "scale": {"domain": ["R","S"], "range": [[1,0],[5,3]]}, "legend": {"labelExpr": "datum.label == 'R' ? 'Recorded' : 'SFM derived'"}}}},
  {"data": {"values": [{}]}, "mark": {"type": "text"}, "encoding": {"x": {"datum": 124.51, "axis": {"orient": "top", "values": [121,122,123,124,125], "labels": false, "title": null}}, "y": {"datum": 0.49, "axis": {"orient": "right", "values": [-0.5,0,0.5], "labels": false, "title": null}}, "text": {"value": "Rocking-𝑌"}}}
 ]},
{"width": 512, "height": 83,
 "transform": [{"filter": "datum.p == 11"}],
 "resolve": {"axis": {"x": "independent", "y": "independent"}},
 "layer": [
  {"mark": {"type": "line", "clip": true},
   "encoding": {
    "x": {"field": "t", "type": "quantitative", "scale": {"domain": [121, 125], "nice": false, "zero": false}, "axis": {"values": [121,122,123,124,125], "format": "d", "labels": false, "title": null}},
    "y": {"field": "v", "type": "quantitative", "scale": {"domain": [-1.03, 1.03], "nice": false, "zero": false}, "axis": {"values": [-1,0,1], "title": null, "labelExpr": "'' + datum.value"}},
    "color": {"field": "s", "type": "nominal", "title": null, "scale": {"domain": ["R","S"], "range": ["#000000","#ff0000"]}, "legend": {"labelExpr": "datum.label == 'R' ? 'Recorded' : 'SFM derived'"}},
    "strokeDash": {"field": "s", "type": "nominal", "title": null, "scale": {"domain": ["R","S"], "range": [[1,0],[5,3]]}, "legend": {"labelExpr": "datum.label == 'R' ? 'Recorded' : 'SFM derived'"}}}},
  {"data": {"values": [{}]}, "mark": {"type": "text"}, "encoding": {"x": {"datum": 124.53, "axis": {"orient": "top", "values": [121,122,123,124,125], "labels": false, "title": null}}, "y": {"datum": 0.62, "axis": {"orient": "right", "values": [-1,0,1], "labels": false, "title": null}}, "text": {"value": "Rocking-𝑌"}}}
 ]},
{"width": 512, "height": 78,
 "transform": [{"filter": "datum.p == 9"}],
 "resolve": {"axis": {"x": "independent", "y": "independent"}},
 "layer": [
  {"mark": {"type": "line", "clip": true},
   "encoding": {
    "x": {"field": "t", "type": "quantitative", "scale": {"domain": [121, 125], "nice": false, "zero": false}, "axis": {"values": [121,122,123,124,125], "format": "d", "labelPadding": 9, "titlePadding": 0, "title": ["𝑡 (s)", "(a)"], "titleLineHeight": 29}},
    "y": {"field": "v", "type": "quantitative", "scale": {"domain": [-0.76, 0.8], "nice": false, "zero": false}, "axis": {"values": [-0.5,0,0.5], "title": "(10⁻⁶ rad)", "titleX": -30, "labelExpr": "'' + datum.value"}},
    "color": {"field": "s", "type": "nominal", "title": null, "scale": {"domain": ["R","S"], "range": ["#000000","#ff0000"]}, "legend": {"labelExpr": "datum.label == 'R' ? 'Recorded' : 'SFM derived'"}},
    "strokeDash": {"field": "s", "type": "nominal", "title": null, "scale": {"domain": ["R","S"], "range": [[1,0],[5,3]]}, "legend": {"labelExpr": "datum.label == 'R' ? 'Recorded' : 'SFM derived'"}}}},
  {"data": {"values": [{}]}, "mark": {"type": "text"}, "encoding": {"x": {"datum": 124.4, "axis": {"orient": "top", "values": [121,122,123,124,125], "labels": false, "title": null}}, "y": {"datum": 0.47, "axis": {"orient": "right", "values": [-0.5,0,0.5], "labels": false, "title": null}}, "text": {"value": "Torsion"}}}
 ]},
{"width": 512, "height": 83,
 "transform": [{"filter": "datum.p == 12"}],
 "resolve": {"axis": {"x": "independent", "y": "independent"}},
 "layer": [
  {"mark": {"type": "line", "clip": true},
   "encoding": {
    "x": {"field": "t", "type": "quantitative", "scale": {"domain": [121, 125], "nice": false, "zero": false}, "axis": {"values": [121,122,123,124,125], "format": "d", "labelPadding": 8, "titlePadding": 0, "title": ["𝑡 (s)", "(b)"], "titleLineHeight": 22}},
    "y": {"field": "v", "type": "quantitative", "scale": {"domain": [-1.03, 1.03], "nice": false, "zero": false}, "axis": {"values": [-1,0,1], "title": null, "labelExpr": "'' + datum.value"}},
    "color": {"field": "s", "type": "nominal", "title": null, "scale": {"domain": ["R","S"], "range": ["#000000","#ff0000"]}, "legend": {"labelExpr": "datum.label == 'R' ? 'Recorded' : 'SFM derived'"}},
    "strokeDash": {"field": "s", "type": "nominal", "title": null, "scale": {"domain": ["R","S"], "range": [[1,0],[5,3]]}, "legend": {"labelExpr": "datum.label == 'R' ? 'Recorded' : 'SFM derived'"}}}},
  {"data": {"values": [{}]}, "mark": {"type": "text"}, "encoding": {"x": {"datum": 124.45, "axis": {"orient": "top", "values": [121,122,123,124,125], "labels": false, "title": null}}, "y": {"datum": 0.71, "axis": {"orient": "right", "values": [-1,0,1], "labels": false, "title": null}}, "text": {"value": "Torsion"}}}
 ]}
]
}
],
"config": {
  "font": "Liberation Serif, DejaVu Serif",
  "view": {"stroke": "#262626", "strokeWidth": 1},
  "axis": {"grid": false, "domain": false, "ticks": true, "tickSize": -5, "tickColor": "#262626", "labelFont": "Liberation Serif, DejaVu Serif", "labelFontSize": 20, "labelColor": "#262626", "labelPadding": 4, "labelFlush": false, "labelOverlap": false, "titleFont": "Liberation Serif, DejaVu Serif", "titleFontSize": 20, "titleFontWeight": "normal", "titleColor": "#262626"},
  "line": {"interpolate": "monotone", "strokeWidth": 2},
  "text": {"font": "Liberation Serif, DejaVu Serif", "fontSize": 21, "color": "#262626"},
  "title": {"font": "Liberation Serif, DejaVu Serif", "fontSize": 21, "fontWeight": "normal", "color": "#262626"},
  "legend": {"orient": "none", "legendX": 876, "legendY": -122, "symbolType": "M-1,0L9,0", "symbolSize": 400, "symbolStrokeWidth": 2, "labelFont": "Liberation Serif, DejaVu Serif", "labelFontSize": 21, "labelColor": "#262626", "rowPadding": 5, "labelOffset": 84}
}
}
